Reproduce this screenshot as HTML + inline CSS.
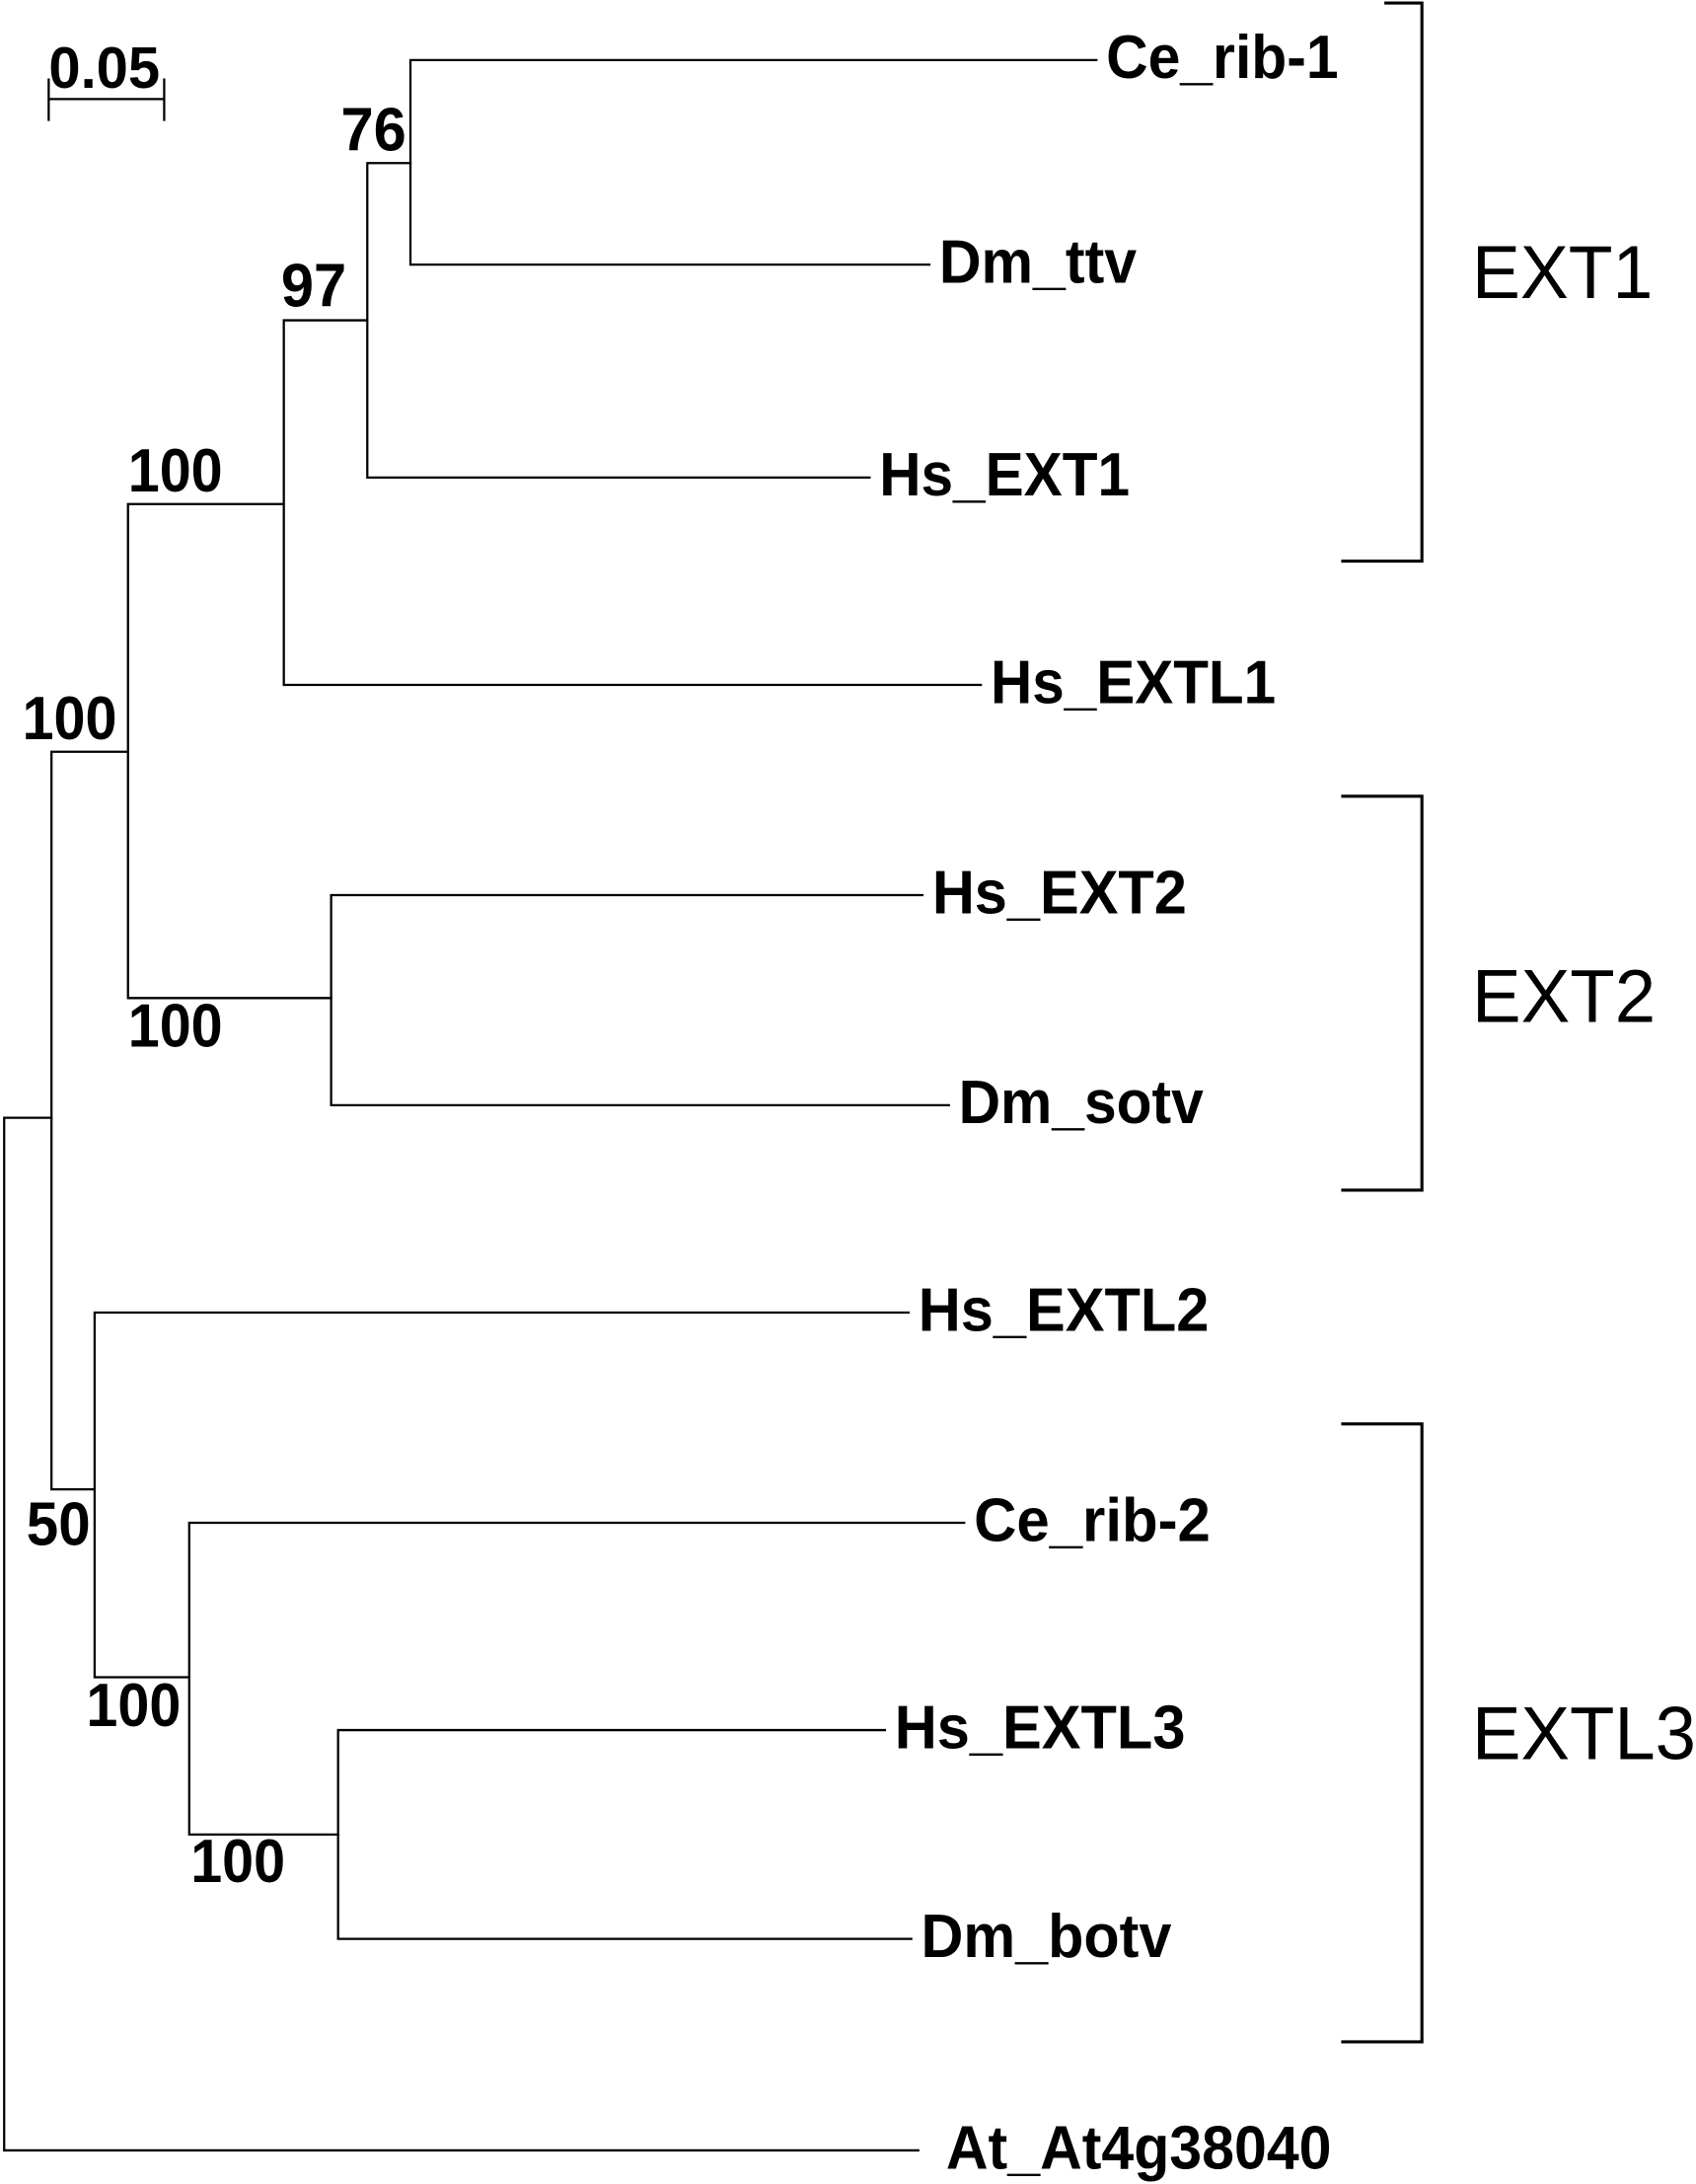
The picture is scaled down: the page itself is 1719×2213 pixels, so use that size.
<!DOCTYPE html>
<html><head><meta charset="utf-8"><style>html,body{margin:0;padding:0;background:#fff}svg{display:block}</style></head>
<body>
<svg width="1719" height="2213" viewBox="0 0 1219 1569" xmlns="http://www.w3.org/2000/svg">
<g stroke="#000" stroke-width="1.6" fill="none" stroke-linecap="square">
<path d="M35 71H118M35 57V86M118 57V86"/>
<path d="M3 803V1545M3 803H37M3 1545H660"/>
<path d="M37 540V1070M37 540H92M37 1070H68"/>
<path d="M92 362V717M92 362H204M92 717H238"/>
<path d="M204 230V492M204 492H705M204 230H264"/>
<path d="M264 117V343M264 343H625M264 117H295"/>
<path d="M295 43V190M295 43H788M295 190H668"/>
<path d="M238 643V794M238 643H663M238 794H682"/>
<path d="M68 943V1205M68 943H653M68 1205H136"/>
<path d="M136 1094V1318M136 1094H693M136 1318H243"/>
<path d="M243 1243V1393M243 1243H636M243 1393H655"/>
</g>
<g stroke="#000" stroke-width="2.2" fill="none">
<path d="M995 2H1022V403H964"/>
<path d="M964 572H1022V855H964"/>
<path d="M964 1023H1022V1467H964"/>
</g>
<g font-family="Liberation Sans, sans-serif" font-weight="bold" font-size="44" fill="#000">
<text x="35" y="63" font-size="42" textLength="80" lengthAdjust="spacingAndGlyphs">0.05</text>
<text x="245" y="108" textLength="47" lengthAdjust="spacingAndGlyphs">76</text>
<text x="202" y="220" textLength="47" lengthAdjust="spacingAndGlyphs">97</text>
<text x="92" y="353" textLength="68" lengthAdjust="spacingAndGlyphs">100</text>
<text x="16" y="531" textLength="68" lengthAdjust="spacingAndGlyphs">100</text>
<text x="92" y="752" textLength="68" lengthAdjust="spacingAndGlyphs">100</text>
<text x="19" y="1110" textLength="46" lengthAdjust="spacingAndGlyphs">50</text>
<text x="62" y="1240" textLength="68" lengthAdjust="spacingAndGlyphs">100</text>
<text x="137" y="1352" textLength="68" lengthAdjust="spacingAndGlyphs">100</text>
<text x="795" y="56" textLength="167" lengthAdjust="spacingAndGlyphs">Ce_rib-1</text>
<text x="675" y="203" textLength="142" lengthAdjust="spacingAndGlyphs">Dm_ttv</text>
<text x="632" y="356" textLength="180" lengthAdjust="spacingAndGlyphs">Hs_EXT1</text>
<text x="712" y="505" textLength="205" lengthAdjust="spacingAndGlyphs">Hs_EXTL1</text>
<text x="670" y="656" textLength="183" lengthAdjust="spacingAndGlyphs">Hs_EXT2</text>
<text x="689" y="807" textLength="176" lengthAdjust="spacingAndGlyphs">Dm_sotv</text>
<text x="660" y="956" textLength="209" lengthAdjust="spacingAndGlyphs">Hs_EXTL2</text>
<text x="700" y="1107" textLength="170" lengthAdjust="spacingAndGlyphs">Ce_rib-2</text>
<text x="643" y="1256" textLength="209" lengthAdjust="spacingAndGlyphs">Hs_EXTL3</text>
<text x="662" y="1406" textLength="180" lengthAdjust="spacingAndGlyphs">Dm_botv</text>
<text x="680" y="1558" textLength="277" lengthAdjust="spacingAndGlyphs">At_At4g38040</text>
</g>
<g font-family="Liberation Sans, sans-serif" font-size="54" fill="#000">
<text x="1058" y="214" textLength="130" lengthAdjust="spacingAndGlyphs">EXT1</text>
<text x="1058" y="734" textLength="132" lengthAdjust="spacingAndGlyphs">EXT2</text>
<text x="1058" y="1264" textLength="161" lengthAdjust="spacingAndGlyphs">EXTL3</text>
</g>
</svg>
</body></html>
